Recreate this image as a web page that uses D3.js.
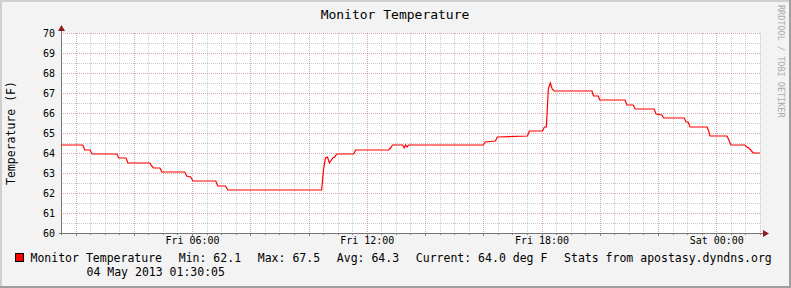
<!DOCTYPE html>
<html>
<head>
<meta charset="utf-8">
<script src="https://cdn.jsdelivr.net/npm/d3@7"></script>
<style>
  html, body { margin: 0; padding: 0; background: #f3f3f3; }
  svg { display: block; font-family: "DejaVu Sans Mono", monospace; }
</style>
</head>
<body>
<div id="chart"></div>
<script>
// samples (break points of the stepped line), Fri 03 May -> Sat 04 May 2013
const sampleTimes = [
  '05-03 01:30', '05-03 02:15', '05-03 02:19', '05-03 02:30', '05-03 02:34', '05-03 03:25',
  '05-03 03:29', '05-03 03:44', '05-03 03:48', '05-03 04:33', '05-03 04:37', '05-03 04:41',
  '05-03 04:54', '05-03 04:58', '05-03 05:45', '05-03 05:49', '05-03 05:57', '05-03 06:02',
  '05-03 06:49', '05-03 06:53', '05-03 07:09', '05-03 07:14', '05-03 10:27', '05-03 10:31',
  '05-03 10:35', '05-03 10:39', '05-03 10:43', '05-03 10:50', '05-03 10:54', '05-03 10:58',
  '05-03 11:33', '05-03 11:37', '05-03 12:45', '05-03 12:49', '05-03 12:53', '05-03 13:14',
  '05-03 13:17', '05-03 13:20', '05-03 13:23', '05-03 13:26', '05-03 16:00', '05-03 16:04',
  '05-03 16:25', '05-03 16:29', '05-03 17:31', '05-03 17:35', '05-03 18:02', '05-03 18:06',
  '05-03 18:10', '05-03 18:14', '05-03 18:18', '05-03 18:22', '05-03 18:26', '05-03 19:44',
  '05-03 19:47', '05-03 19:57', '05-03 20:00', '05-03 20:52', '05-03 20:56', '05-03 21:09',
  '05-03 21:13', '05-03 21:52', '05-03 21:56', '05-03 22:08', '05-03 22:12', '05-03 22:54',
  '05-03 22:58', '05-03 23:02', '05-03 23:06', '05-03 23:41', '05-03 23:45', '05-03 23:47',
  '05-04 00:22', '05-04 00:26', '05-04 00:30', '05-04 00:59', '05-04 01:03', '05-04 01:07',
  '05-04 01:11', '05-04 01:16', '05-04 01:30'
];
const temperatures = [
  64.4, 64.4, 64.15, 64.15, 63.95, 63.95,
  63.75, 63.75, 63.5, 63.5, 63.35, 63.25,
  63.25, 63.05, 63.05, 62.85, 62.8, 62.6,
  62.6, 62.35, 62.35, 62.15, 62.15, 63.2,
  63.75, 63.8, 63.5, 63.75, 63.8, 63.95,
  63.95, 64.15, 64.15, 64.25, 64.4, 64.4,
  64.25, 64.4, 64.3, 64.4, 64.4, 64.55,
  64.6, 64.8, 64.85, 65.1, 65.1, 65.3,
  65.3, 67.2, 67.5, 67.2, 67.1, 67.1,
  66.85, 66.85, 66.65, 66.65, 66.4, 66.4,
  66.2, 66.2, 65.95, 65.9, 65.75, 65.75,
  65.55, 65.55, 65.3, 65.3, 65.05, 64.85,
  64.85, 64.65, 64.4, 64.4, 64.3, 64.25,
  64.15, 64.0, 64.0
];

const yTicks = [60, 61, 62, 63, 64, 65, 66, 67, 68, 69, 70];
const legendItems = ['Monitor Temperature', 'Min: 62.1', 'Max: 67.5', 'Avg: 64.3',
  'Current: 64.0 deg F', 'Stats from apostasy.dyndns.org'];
const timestampLabel = '04 May 2013 01:30:05';

const parseTime = d3.timeParse('%Y-%m-%d %H:%M');
const data = sampleTimes.map((t, i) => ({ time: parseTime('2013-' + t), temp: temperatures[i] }));

const width = 791, height = 288;
const plot = { left: 61, right: 760, top: 33, bottom: 233 };

const svg = d3.select('#chart').append('svg')
  .attr('width', width)
  .attr('height', height);

// background + rrdtool style shaded frame
svg.append('rect').attr('width', width).attr('height', height).attr('fill', '#f3f3f3');
svg.append('path').attr('d', `M0,0H${width}V2H2V${height}H0Z`).attr('fill', '#cfcfcf');
svg.append('path').attr('d', `M${width},${height}H0V${height - 2}H${width - 2}V0H${width}Z`).attr('fill', '#9e9e9e');

svg.append('rect')
  .attr('x', plot.left).attr('y', plot.top)
  .attr('width', plot.right - plot.left).attr('height', plot.bottom - plot.top)
  .attr('fill', '#ffffff');

// scales
const xScale = d3.scaleTime()
  .domain([new Date(2013, 4, 3, 1, 30, 5), new Date(2013, 4, 4, 1, 30, 5)])
  .range([plot.left, plot.right]);

const yScale = d3.scaleLinear()
  .domain([60, 70])
  .range([plot.bottom, plot.top]);

// grid
const grid = svg.append('g').attr('class', 'grid').attr('shape-rendering', 'crispEdges');
const minorColor = 'rgba(140,140,140,0.45)';
const majorColor = 'rgba(170,60,60,0.45)';

const minorX = xScale.ticks(d3.timeMinute.every(30));
const majorX = xScale.ticks(d3.timeHour.every(2));
grid.selectAll('.vminor').data(minorX).join('line')
  .attr('x1', d => Math.round(xScale(d)) + 0.5).attr('x2', d => Math.round(xScale(d)) + 0.5)
  .attr('y1', plot.top).attr('y2', plot.bottom)
  .attr('stroke', d => d.getMinutes() === 0 && d.getHours() % 2 === 0 ? majorColor : minorColor)
  .attr('stroke-dasharray', '1,1');

const minorY = d3.range(60.5, 70, 1);
grid.selectAll('.hminor').data(minorY).join('line')
  .attr('x1', plot.left).attr('x2', plot.right)
  .attr('y1', d => Math.round(yScale(d)) + 0.5).attr('y2', d => Math.round(yScale(d)) + 0.5)
  .attr('stroke', minorColor)
  .attr('stroke-dasharray', '1,1');
grid.selectAll('.hmajor').data(yTicks).join('line')
  .attr('x1', plot.left).attr('x2', plot.right)
  .attr('y1', d => Math.round(yScale(d)) + 0.5).attr('y2', d => Math.round(yScale(d)) + 0.5)
  .attr('stroke', majorColor)
  .attr('stroke-dasharray', '1,1');

// x axis labels
const xAxis = svg.append('g')
  .attr('transform', `translate(0, ${plot.bottom})`)
  .call(d3.axisBottom(xScale)
    .tickValues(xScale.ticks(d3.timeHour.every(6)))
    .tickFormat(d3.timeFormat('%a %H:%M'))
    .tickSize(0)
    .tickPadding(4));
xAxis.select('.domain').remove();
xAxis.selectAll('text')
  .attr('font-family', '"DejaVu Sans Mono", monospace')
  .attr('font-size', 10)
  .attr('fill', '#000');

// y axis labels
const yAxis = svg.append('g')
  .attr('transform', `translate(${plot.left}, 0)`)
  .call(d3.axisLeft(yScale).tickValues(yTicks).tickFormat(d3.format('d')).tickSize(0).tickPadding(6));
yAxis.select('.domain').remove();
yAxis.selectAll('text')
  .attr('font-family', '"DejaVu Sans Mono", monospace')
  .attr('font-size', 10)
  .attr('fill', '#000');

// axis lines with ticks and arrows
const axis = svg.append('g').attr('shape-rendering', 'crispEdges');
axis.selectAll('.xtick').data(minorX).join('line')
  .attr('x1', d => Math.round(xScale(d)) + 0.5).attr('x2', d => Math.round(xScale(d)) + 0.5)
  .attr('y1', plot.bottom).attr('y2', d => plot.bottom + (d.getMinutes() === 0 && d.getHours() % 2 === 0 ? 3 : 2))
  .attr('stroke', '#888');
axis.append('line')
  .attr('x1', plot.left - 2).attr('x2', plot.right + 4)
  .attr('y1', plot.bottom + 0.5).attr('y2', plot.bottom + 0.5)
  .attr('stroke', '#777');
axis.append('line')
  .attr('x1', plot.left + 0.5).attr('x2', plot.left + 0.5)
  .attr('y1', plot.bottom + 2).attr('y2', plot.top - 4)
  .attr('stroke', '#777');
svg.append('path')
  .attr('d', `M${plot.right + 3},${plot.bottom - 3}L${plot.right + 9},${plot.bottom + 0.5}L${plot.right + 3},${plot.bottom + 4}Z`)
  .attr('fill', '#8e1c1c');
svg.append('path')
  .attr('d', `M${plot.left - 3},${plot.top - 2}L${plot.left + 0.5},${plot.top - 8}L${plot.left + 4},${plot.top - 2}Z`)
  .attr('fill', '#8e1c1c');

// the line
const line = d3.line()
  .x(d => xScale(d.time))
  .y(d => yScale(d.temp));

svg.append('path')
  .datum(data)
  .attr('d', line)
  .attr('fill', 'none')
  .attr('stroke', '#ff0000')
  .attr('stroke-width', 1.2);

// titles
svg.append('text')
  .attr('x', 395).attr('y', 18.5)
  .attr('text-anchor', 'middle')
  .attr('font-size', 13)
  .text('Monitor Temperature');

svg.append('text')
  .attr('transform', `translate(15, ${(plot.top + plot.bottom) / 2}) rotate(-90)`)
  .attr('text-anchor', 'middle')
  .attr('font-size', 11.5)
  .text('Temperature (F)');

svg.append('text')
  .attr('transform', 'translate(778, 5) rotate(90)')
  .attr('font-size', 8.5)
  .attr('fill', '#aaaaaa')
  .text('RRDTOOL / TOBI OETIKER');

// legend
svg.append('rect')
  .attr('x', 15.5).attr('y', 253.5)
  .attr('width', 8).attr('height', 8)
  .attr('fill', '#ff0000')
  .attr('stroke', '#000');

let legendX = 30.5;
legendItems.forEach(label => {
  const t = svg.append('text')
    .attr('x', legendX).attr('y', 262)
    .attr('font-size', 11.5)
    .text(label);
  legendX += t.node().getComputedTextLength() + 16.7;
});

svg.append('text')
  .attr('x', 86.5).attr('y', 276)
  .attr('font-size', 11.5)
  .text(timestampLabel);
</script>
</body>
</html>
